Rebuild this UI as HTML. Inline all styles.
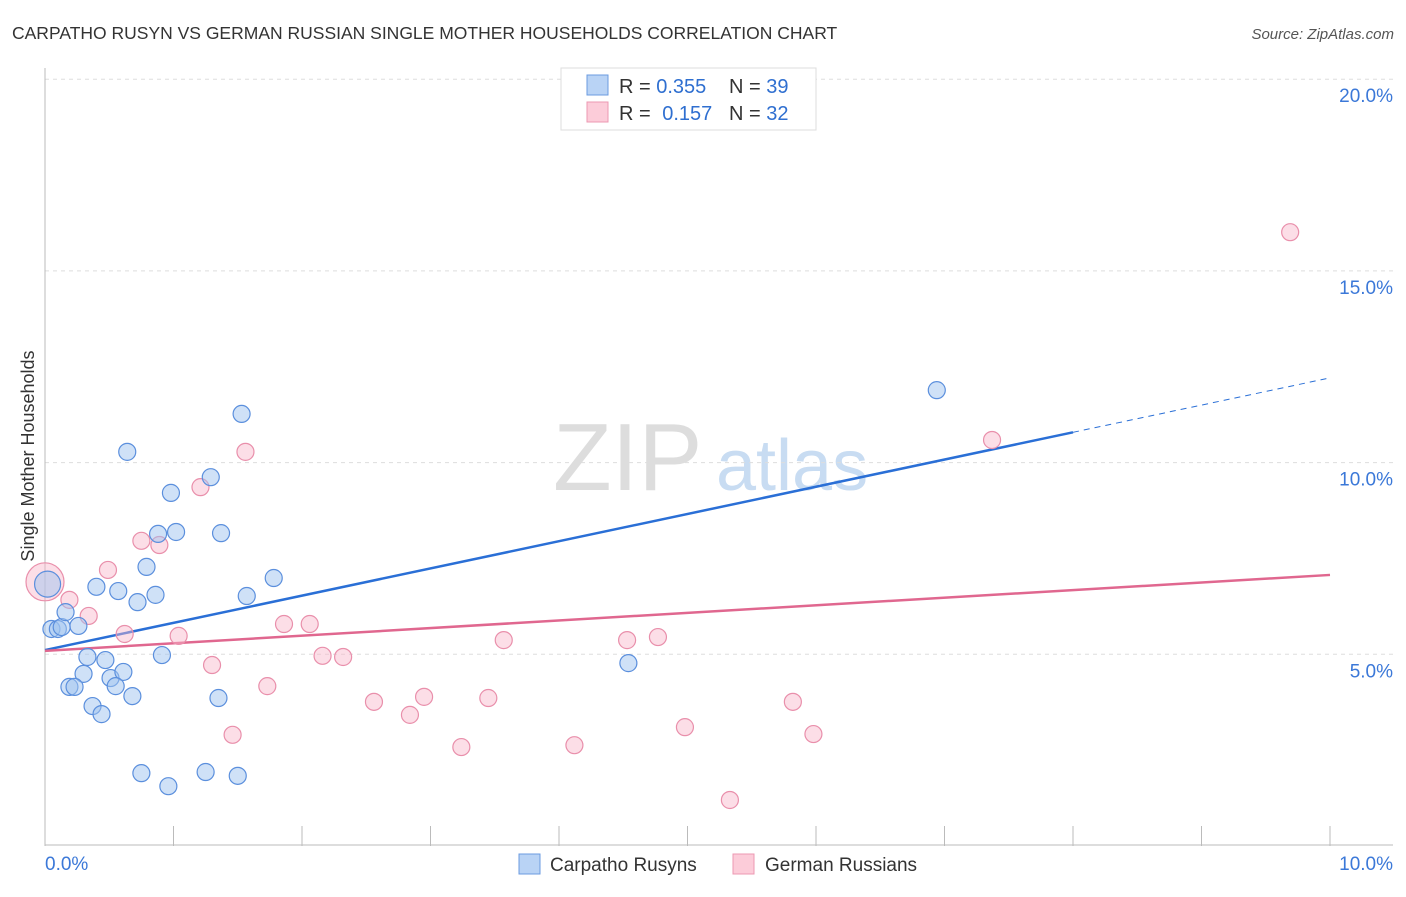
<!DOCTYPE html>
<html><head><meta charset="utf-8"><style>
body{margin:0;background:#fff;font-family:"Liberation Sans",sans-serif}
svg text{font-family:"Liberation Sans",sans-serif}
</style></head><body>
<svg id="chart" width="1406" height="892">
<text x="12" y="39" font-size="17.5" fill="#333">CARPATHO RUSYN VS GERMAN RUSSIAN SINGLE MOTHER HOUSEHOLDS CORRELATION CHART</text>
<text x="1394" y="39" font-size="15" fill="#555" font-style="italic" text-anchor="end">Source: ZipAtlas.com</text>
<g>
<text x="553" y="490" font-size="96" fill="#ddd" font-family="Liberation Serif,serif">ZIP</text>
<text x="716" y="490" font-size="72" fill="#c8dcf2">atlas</text>
</g>
<g id="grid"></g>
<g id="axes"></g>
<g id="lines"></g>
<g id="points"></g>
<text transform="translate(34,456) rotate(-90)" font-size="18" fill="#333" text-anchor="middle">Single Mother Households</text>
<g>
<rect x="561" y="68" width="255" height="62" fill="#fff" stroke="#ddd"/>
<rect x="587" y="75" width="21" height="20" fill="#b9d3f5" stroke="#6b9be0"/>
<rect x="587" y="102" width="21" height="20" fill="#fcccd9" stroke="#ec98b2"/>
<text x="619" y="93" font-size="20" fill="#333">R = <tspan fill="#2f6fd0">0.355</tspan></text>
<text x="729" y="93" font-size="20" fill="#333">N = <tspan fill="#2f6fd0">39</tspan></text>
<text x="619" y="120" font-size="20" fill="#333">R = <tspan fill="#2f6fd0" dx="6">0.157</tspan></text>
<text x="729" y="120" font-size="20" fill="#333">N = <tspan fill="#2f6fd0">32</tspan></text>
</g>
<g>
<rect x="519" y="854" width="21" height="20" fill="#b9d3f5" stroke="#6b9be0"/>
<text x="550" y="871" font-size="19" fill="#333">Carpatho Rusyns</text>
<rect x="733" y="854" width="21" height="20" fill="#fcccd9" stroke="#ec98b2"/>
<text x="765" y="871" font-size="19" fill="#333">German Russians</text>
</g>
</svg>
<script>
const yTicks=[5,10,15,20];
const yTickLabels=["5.0%","10.0%","15.0%","20.0%"];
const xTicks=[0,1,2,3,4,5,6,7,8,9,10];
const xEdgeLabels=["0.0%","10.0%"];
const blueX=[0.02,0.05,0.10,0.13,0.16,0.26,0.40,0.57,0.72,0.79,0.86,0.88,1.02,0.98,1.29,0.64,1.53,1.37,1.57,1.78,0.33,0.47,0.91,0.30,0.51,0.61,0.55,0.19,0.23,0.68,0.37,0.44,1.35,0.75,0.96,1.25,1.50,4.54,6.94];
const blueY=[6.83,5.66,5.66,5.71,6.10,5.74,6.76,6.65,6.36,7.28,6.55,8.14,8.19,9.21,9.62,10.28,11.27,8.16,6.52,6.99,4.93,4.85,4.98,4.49,4.38,4.54,4.17,4.15,4.15,3.91,3.65,3.44,3.86,1.90,1.56,1.93,1.83,4.77,11.89];
const pinkX=[0.0,0.19,0.34,0.49,0.62,0.75,0.89,1.04,1.21,1.56,1.30,1.46,1.73,1.86,2.06,2.16,2.32,2.56,2.84,2.95,3.24,3.45,3.57,4.12,4.53,4.77,4.98,5.33,5.82,5.98,7.37,9.69];
const pinkY=[6.89,6.42,6.00,7.20,5.53,7.96,7.85,5.48,9.36,10.28,4.72,2.90,4.17,5.79,5.79,4.96,4.93,3.76,3.42,3.89,2.58,3.86,5.37,2.63,5.37,5.45,3.10,1.20,3.76,2.92,10.59,16.01];
const blueTrend=[5.11,12.21];
const pinkTrend=[5.09,7.07];
const NS="http://www.w3.org/2000/svg";
const xs=v=>45+v*128.5;
const ys=v=>846-v*38.34;
function mk(p,t,a){const e=document.createElementNS(NS,t);for(const k in a)e.setAttribute(k,a[k]);p.appendChild(e);return e;}
const grid=document.getElementById('grid'),axes=document.getElementById('axes'),lines=document.getElementById('lines'),pts=document.getElementById('points');
yTicks.forEach((t,i)=>{
 const l=mk(grid,'line',{x1:45,x2:1393,y1:ys(t),y2:ys(t),stroke:'#ddd','stroke-dasharray':'4,4'});
 
 
 const tx=mk(axes,'text',{x:1393,y:ys(t)+23,'font-size':19,fill:'#3b78d8','text-anchor':'end'});
 tx.textContent=yTickLabels[i];
 
 
});
const ax=mk(axes,'line',{x1:45,x2:1393,y1:845,y2:845,stroke:'#bbb'});


const ay=mk(axes,'line',{x1:45,x2:45,y1:68,y2:846,stroke:'#bbb'});


xTicks.forEach(t=>{
 const l=mk(axes,'line',{x1:xs(t),x2:xs(t),y1:826,y2:846,stroke:'#bbb'});
 
 
});
const xl0=mk(axes,'text',{x:45,y:870,'font-size':19,fill:'#3b78d8'});xl0.textContent=xEdgeLabels[0];


const xl1=mk(axes,'text',{x:1393,y:870,'font-size':19,fill:'#3b78d8','text-anchor':'end'});xl1.textContent=xEdgeLabels[1];


function pt(x,y,r,fill,stroke,name){const c=mk(pts,'circle',{cx:xs(x),cy:ys(y),r:r,fill:fill,stroke:stroke,'stroke-width':1.2});
 
 }
pinkX.forEach((x,i)=>pt(x,pinkY[i],i==0?19:8.5,'rgba(248,182,202,0.45)','#e98fab','german-russian-point'));
blueX.forEach((x,i)=>pt(x,blueY[i],i==0?13:8.5,'rgba(160,196,240,0.5)','#5b8fdd','carpatho-rusyn-point'));
const bm=blueTrend[0]+(blueTrend[1]-blueTrend[0])*0.8;
const b1=mk(lines,'line',{x1:xs(0),y1:ys(blueTrend[0]),x2:xs(8),y2:ys(bm),stroke:'#2a6fd6','stroke-width':2.5});


const b2=mk(lines,'line',{x1:xs(8),y1:ys(bm),x2:xs(10),y2:ys(blueTrend[1]),stroke:'#2a6fd6','stroke-width':1,'stroke-dasharray':'6,5'});


const p1=mk(lines,'line',{x1:xs(0),y1:ys(pinkTrend[0]),x2:xs(10),y2:ys(pinkTrend[1]),stroke:'#e0678f','stroke-width':2.5});


</script>
</body></html>
